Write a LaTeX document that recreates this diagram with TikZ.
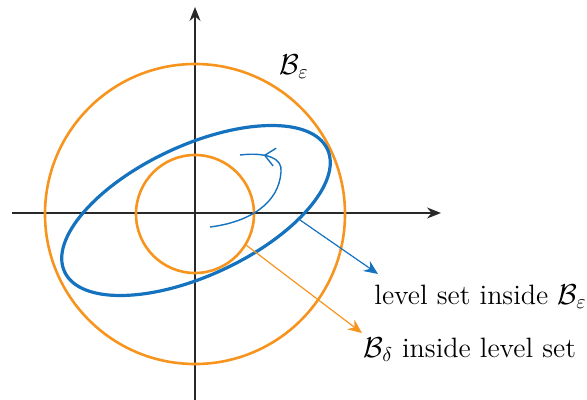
\documentclass[tikz,border=0pt]{standalone}
\usetikzlibrary{arrows.meta,decorations.markings}
\definecolor{myblue}{RGB}{20,114,190}
\definecolor{myorange}{RGB}{247,148,30}
\definecolor{axisgray}{RGB}{40,40,40}
\tikzset{
  axis/.style={draw=axisgray,line width=0.75pt,-{Stealth[length=7pt,width=5.5pt]}},
  bigring/.style={draw=myorange,line width=1.3pt},
  levelset/.style={draw=myblue,line width=1.6pt},
  traj/.style={draw=myblue,line width=0.7pt},
  pointer/.style={line width=0.6pt,-{Stealth[length=7pt,width=6pt]}},
  lbl/.style={font=\fontsize{14}{17}\selectfont,inner sep=0pt},
}
\begin{document}
\begin{tikzpicture}[x=0.5pt,y=-0.5pt]
\path[use as bounding box] (0,0) rectangle (587,400);
% axes
\coordinate (xl) at (12,213);
\coordinate (xr) at (441,213);
\coordinate (yb) at (195,400);
\coordinate (yt) at (195,7);
\draw[axis] (xl) -- (xr);
\draw[axis] (yb) -- (yt);
% circles
\coordinate (c0) at (195,214);
\draw[bigring] (c0) circle[radius=75pt];
\draw[bigring] (c0) circle[radius=29.5pt];
% level set ellipse
\coordinate (e0) at (196,210.5);
\draw[levelset] (e0) ellipse[x radius=72.5pt,y radius=32.5pt,rotate=25];
% trajectory
\coordinate (ts) at (210,227);
\coordinate (tm) at (281,172);
\coordinate (te) at (240,155);
\draw[traj,decoration={markings,mark=at position 0.84 with {\arrow{Straight Barb[length=5pt,width=9pt]}}},postaction={decorate}]
  (ts) .. controls (250,222) and (279,203) .. (tm)
       .. controls (283,158) and (266,152) .. (te);
% labels
\node[lbl,anchor=base west] (lbl1) at (374,304) {level set inside $\mathcal{B}_\varepsilon$};
\node[lbl,anchor=base west] (lbl2) at (363,357) {$\mathcal{B}_\delta$ inside level set};
\node[lbl] (lblB) at (294,67) {$\mathcal{B}_\varepsilon$};
% pointers
\coordinate (s1) at (300,220);
\coordinate (t1) at (378,274);
\coordinate (s2) at (246,245);
\coordinate (t2) at (362,333);
\draw[pointer,myblue] (s1) -- (t1);
\draw[pointer,myorange] (s2) -- (t2);
\end{tikzpicture}
\end{document}
